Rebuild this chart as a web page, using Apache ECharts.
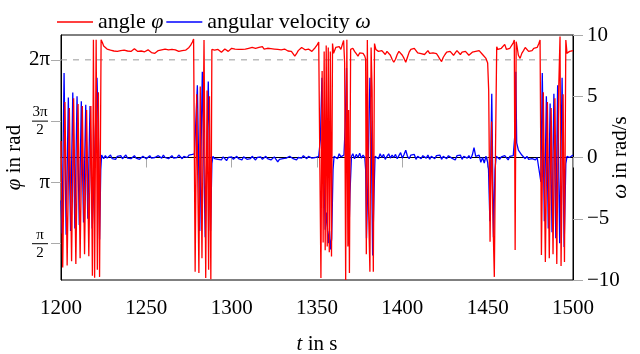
<!DOCTYPE html>
<html>
<head>
<meta charset="utf-8">
<script src="https://cdn.jsdelivr.net/npm/echarts@6/dist/echarts.min.js"></script>
<style>
  html, body { margin: 0; padding: 0; background: #fff; }
  #chart { width: 640px; height: 354px; }
</style>
</head>
<body>
<div id="chart"></div>
<script>
"use strict"

// axes
var timeRange = [1200, 1500];
var timeStep = 50;
var angleRange = [0.64, 6.92];
var omegaRange = [-10, 10];
var omegaStep = 5;
var refAngle = 2 * Math.PI;   // dashed line
var angleTicks = [Math.PI / 2, Math.PI, 3 * Math.PI / 2, 2 * Math.PI];
var angleTickLabels = ['{n|π}\n{b| }\n{d|2}', '{w|π}', '{n|3π}\n{b| }\n{d|2}', '{w|2π}'];

// ---- angle phi, swing phases: [t, phi]
var angleSwing1200 = [
    [1200.0, 4.2], [1201.0, 0.96], [1202.3, 5.2], [1203.6, 1.01], [1204.9, 5.05],
    [1206.2, 1.12], [1207.4, 5.3], [1208.7, 1.05], [1210.0, 5.15], [1211.2, 1.2],
    [1212.5, 5.1], [1213.8, 1.3], [1215.0, 5.0], [1216.3, 1.25], [1217.5, 5.1],
    [1218.4, 0.75], [1219.0, 6.8], [1219.7, 0.7], [1220.6, 6.8], [1221.3, 0.9],
    [1221.9, 5.45], [1222.6, 0.72], [1223.5, 6.8], [1224.3, 6.72]
];
var angleSwing1277 = [
    [1277.7, 6.82], [1278.6, 0.85], [1279.5, 5.4], [1280.8, 0.82], [1281.6, 5.6],
    [1282.6, 1.2], [1283.8, 6.79], [1284.8, 0.69], [1285.6, 5.5], [1286.5, 0.9],
    [1287.0, 5.35], [1287.8, 0.66], [1288.4, 6.55]
];
var angleSwing1351 = [
    [1351.8, 6.79], [1352.3, 0.69], [1353.0, 6.0], [1353.6, 1.6], [1354.2, 6.5],
    [1354.8, 1.4], [1355.4, 6.65], [1356.0, 1.5], [1356.6, 6.6], [1357.2, 1.35],
    [1357.8, 6.5], [1358.5, 1.24], [1359.1, 6.7], [1359.7, 6.45]
];
var angleSwing1365 = [
    [1365.6, 6.78], [1366.2, 6.2], [1366.8, 0.64], [1367.5, 6.8], [1368.1, 1.5],
    [1368.5, 5.0], [1369.0, 0.82], [1369.7, 6.55]
];
var angleSwing1378 = [
    [1378.5, 6.3], [1378.9, 1.3], [1379.5, 6.79], [1380.2, 2.5], [1381.0, 0.85],
    [1381.7, 6.6], [1382.3, 5.5], [1383.0, 0.85], [1383.7, 6.7], [1384.5, 6.55]
];
var angleSwing1450 = [
    [1450.0, 6.2], [1450.6, 5.5], [1451.4, 1.62], [1452.3, 4.7], [1453.0, 2.4],
    [1453.9, 0.72], [1454.6, 4.0], [1455.3, 6.62]
];
var angleSwing1465 = [
    [1465.0, 6.72], [1465.6, 6.79], [1466.1, 1.41], [1466.7, 6.75], [1467.3, 6.6]
];
var angleSwing1480 = [
    [1480.7, 6.79], [1481.5, 1.28], [1482.6, 5.45], [1483.8, 1.1], [1485.0, 5.2],
    [1486.1, 1.2], [1487.2, 5.05], [1488.3, 1.3], [1489.4, 5.3], [1490.5, 1.05],
    [1491.6, 5.5], [1492.4, 6.88], [1493.0, 1.0], [1494.2, 5.4], [1495.0, 1.1],
    [1495.8, 6.79], [1496.5, 6.45]
];

// ---- angle phi, balanced phases: one sample per second from the start time
var angleCalm1225 = [
    6.64, 6.6, 6.56, 6.58, 6.53, 6.55, 6.51, 6.54, 6.5, 6.55,
    6.52, 6.49, 6.53, 6.56, 6.51, 6.53, 6.5, 6.54, 6.57, 6.52,
    6.5, 6.53, 6.51, 6.55, 6.49, 6.52, 6.54, 6.5, 6.47, 6.43,
    6.45, 6.5, 6.52, 6.5, 6.54, 6.52, 6.56, 6.58, 6.54, 6.52,
    6.55, 6.51, 6.54, 6.52, 6.5, 6.54, 6.52, 6.55, 6.53, 6.56,
    6.6, 6.66, 6.74
];
var angleCalm1289 = [
    6.5, 6.53, 6.5, 6.55, 6.52, 6.48, 6.52, 6.56, 6.53, 6.5,
    6.55, 6.58, 6.54, 6.56, 6.52, 6.55, 6.58, 6.55, 6.52, 6.56,
    6.53, 6.58, 6.55, 6.6, 6.56, 6.58, 6.55, 6.6, 6.57, 6.62,
    6.56, 6.54, 6.58, 6.55, 6.57, 6.54, 6.56, 6.52, 6.55, 6.58,
    6.54, 6.52, 6.56, 6.53, 6.51, 6.55, 6.5, 6.45, 6.38, 6.44,
    6.52, 6.56, 6.6, 6.57, 6.54, 6.52, 6.56, 6.54, 6.5, 6.55,
    6.6, 6.66, 6.74
];
var angleCalm1360 = [6.5, 6.6, 6.55, 6.62, 6.55, 6.7];
var angleCalm1370 = [6.6, 6.58, 6.5, 6.44, 6.38, 6.46, 6.5, 6.45, 6.38];
var angleCalm1385 = [
    6.55, 6.5, 6.45, 6.52, 6.48, 6.42, 6.5, 6.46, 6.4, 6.3,
    6.22, 6.3, 6.42, 6.5, 6.45, 6.4, 6.32, 6.22, 6.35, 6.48,
    6.55, 6.5, 6.58, 6.52, 6.46, 6.5, 6.44, 6.48, 6.42, 6.47,
    6.52, 6.45, 6.4, 6.46, 6.5, 6.44, 6.38, 6.3, 6.24, 6.35,
    6.42, 6.48, 6.44, 6.5, 6.46, 6.4, 6.46, 6.52, 6.47, 6.42,
    6.48, 6.44, 6.5, 6.46, 6.4, 6.44, 6.48, 6.43, 6.5, 6.47,
    6.52, 6.48, 6.42, 6.38, 6.32
];
var angleCalm1456 = [6.55, 6.5, 6.58, 6.62, 6.68, 6.55, 6.52, 6.58, 6.62];
var angleCalm1468 = [6.4, 6.32, 6.45, 6.52, 6.6, 6.55, 6.5, 6.55, 6.52, 6.58, 6.54, 6.6, 6.7];
var angleCalm1497 = [6.48, 6.5, 6.47, 6.52];

// ---- angular velocity omega, swing phases: [t, omega]
var omegaSwing1200 = [
    [1200.0, -3.5], [1200.6, -6.2], [1201.8, 6.9], [1203.0, -6.3], [1204.3, 4.9],
    [1205.6, -6.0], [1206.9, 5.3], [1208.1, -5.8], [1209.4, 5.0], [1210.7, -5.5],
    [1211.9, 4.6], [1213.2, -5.3], [1214.5, 4.3], [1215.7, -5.0], [1217.0, 4.2],
    [1218.3, -5.8], [1219.2, -2.5], [1220.0, 1.5], [1221.1, 6.5], [1222.0, 1.0],
    [1222.6, -6.7], [1223.3, -1.0], [1223.8, 0.2]
];
var omegaSwing1278 = [
    [1278.2, 0.3], [1279.9, 5.9], [1281.3, -6.0], [1282.8, 7.0], [1284.5, -6.5],
    [1286.3, 6.2], [1287.6, -6.0], [1288.4, -0.5], [1289.0, 0.1]
];
var omegaSwing1351 = [
    [1351.0, 0.1], [1352.0, 1.5], [1352.9, 6.5], [1353.5, 6.4], [1354.2, -2.0],
    [1354.8, -5.9], [1355.6, -4.5], [1356.6, -7.0], [1357.3, -6.0], [1358.0, -7.5],
    [1358.6, -6.6], [1359.4, -1.0], [1360.0, 0.1]
];
var omegaSwing1365 = [
    [1365.8, 0.2], [1366.5, 2.5], [1367.3, 7.3], [1368.0, -1.0], [1368.6, -7.1],
    [1369.3, -3.0], [1370.2, 0.1]
];
var omegaSwing1378 = [
    [1378.0, 0.0], [1378.5, -1.0], [1379.0, -6.6], [1379.8, -2.0], [1381.0, 6.5],
    [1381.8, 2.0], [1382.6, -8.0], [1383.4, -3.0], [1384.0, 0.1]
];
var omegaSwing1450 = [
    [1450.0, -0.4], [1450.5, -1.0], [1451.3, -5.2], [1452.4, 5.2], [1453.4, -6.5],
    [1454.3, -1.0], [1455.0, 0.1]
];
var omegaSwing1465 = [[1465.6, 0.3], [1466.0, 2.0], [1466.5, 7.0], [1467.0, 1.2]];
var omegaSwing1481 = [
    [1481.2, -2.0], [1482.0, 6.9], [1483.2, -5.2], [1484.4, 5.0], [1485.5, -5.8],
    [1486.6, 4.4], [1487.7, -6.1], [1488.8, 5.2], [1489.9, -6.6], [1491.0, 5.9],
    [1492.2, -7.0], [1493.6, 6.5], [1494.8, -7.3], [1495.8, -0.5], [1496.5, 0.1]
];

// ---- angular velocity omega, balanced phases: one sample per second
var omegaCalm1224 = [
    0.1, -0.1, 0.15, -0.05, 0.1, 0.2, -0.1, 0.05, -0.15, 0.1,
    0.0, 0.15, -0.1, 0.05, 0.2, -0.05, 0.1, -0.1, 0.05, 0.15,
    -0.05, 0.1, -0.15, 0.0, 0.1, 0.2, -0.1, 0.05, 0.15, -0.05,
    0.1, 0.0, -0.1, 0.15, 0.05, -0.05, 0.2, 0.0, 0.1, -0.1,
    0.05, 0.15, -0.05, 0.1, 0.0, 0.2, 0.05, -0.1, 0.1, 0.15,
    0.0, 0.2, 0.1, 0.25
];
var omegaCalm1290 = [
    -0.1, 0.05, -0.15, 0.0, -0.2, 0.05, -0.1, -0.25, 0.0, -0.1,
    0.05, -0.15, -0.05, 0.1, -0.1, 0.0, -0.2, 0.05, -0.05, -0.15,
    0.0, -0.1, 0.1, -0.05, -0.2, 0.0, -0.1, 0.05, -0.15, -0.05,
    0.1, -0.1, 0.0, -0.2, -0.05, 0.05, -0.1, -0.35, -0.15, 0.0,
    -0.1, 0.05, -0.05, -0.15, 0.1, 0.0, -0.1, 0.05, -0.2, 0.0,
    0.1, -0.05, 0.15, 0.0, -0.1, 0.1, 0.05, -0.05, 0.1, 0.0,
    0.05
];
var omegaCalm1361 = [0.2, -0.1, 0.3, 0.05, -0.1];
var omegaCalm1371 = [0.3, -0.1, 0.25, 0.0, 0.35, -0.05, 0.2];
var omegaCalm1385 = [
    0.2, -0.1, 0.3, 0.0, 0.25, -0.15, 0.1, 0.3, -0.05, 0.2,
    0.0, 0.25, -0.1, 0.15, 0.4, -0.05, 0.25, 0.6, 0.1, -0.1,
    0.2, 0.05, 0.25, -0.15, 0.1, 0.2, -0.1, 0.15, 0.3, -0.05,
    0.2, -0.15, 0.1, 0.25, -0.1, 0.15, 0.0, 0.2, -0.15, 0.1,
    0.15, -0.1, 0.15, 0.25, -0.05, 0.1, -0.2, 0.15, 0.0, 0.2,
    -0.15, 0.1, 0.25, -0.05, 0.15, -0.1, 0.2, 0.8, 0.1, -0.05,
    0.2, -0.4, 0.0, -0.45, 0.1
];
var omegaCalm1456 = [0.1, -0.15, 0.05, -0.1, 0.15, 0.0, -0.2, 0.1, -0.05, 0.15];
var omegaCalm1468 = [0.6, 0.45, 0.2, 0.05, -0.1, 0.1, -0.15, 0.0, -0.1, 0.05, -0.2, 0.0, 0.1];
var omegaCalm1497 = [0.1, 0.0, 0.15, 0.2];

function calm(t0, vals) {
    return vals.map(function (v, i) { return [t0 + i, v]; });
}

var angleData = [].concat(
    angleSwing1200, calm(1225, angleCalm1225),
    angleSwing1277, calm(1289, angleCalm1289),
    angleSwing1351, calm(1360, angleCalm1360),
    angleSwing1365, calm(1370, angleCalm1370),
    angleSwing1378, calm(1385, angleCalm1385),
    angleSwing1450, calm(1456, angleCalm1456),
    angleSwing1465, calm(1468, angleCalm1468),
    angleSwing1480, calm(1497, angleCalm1497)
);
var omegaData = [].concat(
    omegaSwing1200, calm(1224, omegaCalm1224),
    omegaSwing1278, calm(1290, omegaCalm1290),
    omegaSwing1351, calm(1361, omegaCalm1361),
    omegaSwing1365, calm(1371, omegaCalm1371),
    omegaSwing1378, calm(1385, omegaCalm1385),
    omegaSwing1450, calm(1456, omegaCalm1456),
    omegaSwing1465, calm(1468, omegaCalm1468),
    omegaSwing1481, calm(1497, omegaCalm1497)
);

var FONT = 'Liberation Serif';
var tickGray = '#aaaaaa';

var chart = echarts.init(document.getElementById('chart'), null, { renderer: 'canvas' });

var option = {
    animation: false,
    backgroundColor: '#fff',
    textStyle: { fontFamily: FONT, color: '#000' },
    legend: {
        data: ['angle φ', 'angular velocity ω'],
        icon: 'rect',
        left: 52,
        top: 6,
        itemWidth: 36,
        itemHeight: 1.4,
        itemGap: 3,
        formatter: function (name) {
            return name.replace(/([φω])/, '{i|$1}');
        },
        textStyle: {
            fontFamily: FONT, fontSize: 22, color: '#000',
            rich: { i: { fontFamily: FONT, fontSize: 22, fontStyle: 'italic', color: '#000' } }
        }
    },
    grid: {
        left: 61, right: 67, top: 35, bottom: 74,
        show: true, borderColor: '#000', borderWidth: 1,
        outerBoundsMode: 'none'
    },
    xAxis: {
        type: 'value',
        min: timeRange[0], max: timeRange[1], interval: timeStep,
        name: '{i|t} in s',
        nameLocation: 'middle',
        nameGap: 54,
        nameMoveOverlap: false,
        nameTextStyle: {
            fontFamily: FONT, fontSize: 21, color: '#000',
            rich: { i: { fontFamily: FONT, fontSize: 21, fontStyle: 'italic', color: '#000' } }
        },
        axisLine: { show: true, lineStyle: { color: '#000', width: 1 } },
        axisTick: { show: true, length: 10, lineStyle: { color: tickGray } },
        axisLabel: {
            fontFamily: FONT, fontSize: 21, color: '#000', margin: 18,
            formatter: function (v) { return String(v); }
        },
        splitLine: { show: false }
    },
    yAxis: [{
        type: 'value',
        position: 'left',
        min: angleRange[0], max: angleRange[1],
        name: '{i|φ} in rad',
        nameLocation: 'middle',
        nameRotate: 90,
        nameGap: 36,
        nameMoveOverlap: false,
        nameTextStyle: {
            fontFamily: FONT, fontSize: 21, color: '#000',
            rich: { i: { fontFamily: FONT, fontSize: 21, fontStyle: 'italic', color: '#000' } }
        },
        axisLine: { show: true, lineStyle: { color: '#000', width: 1 } },
        axisTick: { show: true, length: 10, lineStyle: { color: tickGray }, customValues: angleTicks },
        axisLabel: {
            customValues: angleTicks,
            margin: 11,
            color: '#000',
            formatter: function (v) {
                var i = angleTicks.findIndex(function (t) { return Math.abs(t - v) < 1e-6; });
                return i < 0 ? '' : angleTickLabels[i];
            },
            rich: {
                w: { fontFamily: FONT, fontSize: 21, color: '#000' },
                n: { fontFamily: FONT, fontSize: 15, color: '#000', width: 20, align: 'center', lineHeight: 15 },
                b: { fontSize: 1, width: 16, height: 1, lineHeight: 3, backgroundColor: '#000', align: 'center' },
                d: { fontFamily: FONT, fontSize: 15, color: '#000', width: 20, align: 'center', lineHeight: 15 }
            }
        },
        splitLine: { show: false }
    }, {
        type: 'value',
        position: 'right',
        min: omegaRange[0], max: omegaRange[1], interval: omegaStep,
        name: '{i|ω} in rad/s',
        nameLocation: 'middle',
        nameRotate: 90,
        nameGap: 37,
        nameMoveOverlap: false,
        nameTextStyle: {
            fontFamily: FONT, fontSize: 21, color: '#000',
            rich: { i: { fontFamily: FONT, fontSize: 21, fontStyle: 'italic', color: '#000' } }
        },
        axisLine: { show: true, lineStyle: { color: '#000', width: 1 } },
        axisTick: { show: true, length: 10, lineStyle: { color: tickGray } },
        axisLabel: {
            fontFamily: FONT, fontSize: 21, color: '#000', margin: 14,
            formatter: function (v) { return v < 0 ? '\u2212' + (-v) : String(v); }
        },
        splitLine: { show: false }
    }],
    series: [{
        // 2 pi reference
        type: 'line',
        yAxisIndex: 0,
        data: [[timeRange[0], refAngle], [timeRange[1], refAngle]],
        symbol: 'none',
        silent: true,
        z: 1,
        lineStyle: { color: '#999999', width: 1, type: [6, 6] }
    }, {
        name: 'angle φ',
        type: 'line',
        yAxisIndex: 0,
        data: angleData,
        symbol: 'none',
        z: 4,
        color: '#ff0000',
        lineStyle: { color: '#ff0000', width: 1.3 }
    }, {
        name: 'angular velocity ω',
        type: 'line',
        yAxisIndex: 1,
        data: omegaData,
        symbol: 'none',
        z: 3,
        color: '#0000ff',
        lineStyle: { color: '#0000ff', width: 1.3 }
    }]
};

chart.setOption(option);
console.log('points', angleData.length, omegaData.length);
</script>
</body>
</html>
